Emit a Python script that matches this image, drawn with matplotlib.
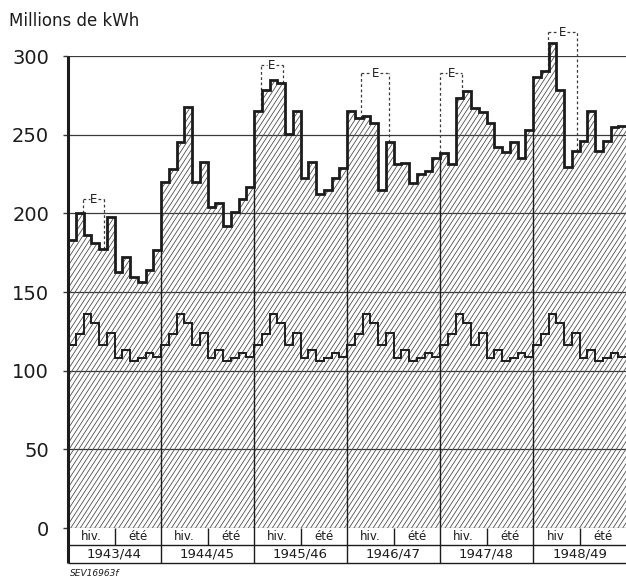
import numpy as np
import matplotlib
matplotlib.use("Agg")
import matplotlib.pyplot as plt
from matplotlib.collections import LineCollection

# données (millions de kWh, valeurs mensuelles oct. -> sept.)
years = ["1943/44", "1944/45", "1945/46", "1946/47", "1947/48", "1948/49"]
seasons = ["hiv.", "été"]
upper = [
    183, 200, 186.5, 181, 177.6, 197.6, 163, 172, 159.3, 156.5, 164, 177,
    219.8, 228.4, 245.5, 267.5, 219.8, 232.8, 204.2, 206.5, 192, 200.8, 209, 216.7,
    264.8, 278.5, 285, 283, 250.4, 265, 222.6, 232.6, 212.4, 214.6, 222.7, 229,
    264.8, 260.8, 261.8, 257.3, 214.6, 245.3, 231.5, 232.3, 219, 224.8, 227, 235.3,
    238.2, 231.4, 273, 277.5, 266.7, 264.1, 257.2, 241.9, 239.2, 245.3, 235.2, 253.1,
    286.6, 290.4, 308.3, 278.5, 229.2, 239.6, 245.9, 264.8, 239.6, 245.9, 254.8, 255.4,
]
lower = [
    116, 123, 136, 130, 116, 124, 108, 113, 106, 108, 111, 109,
    116, 123, 136, 130, 116, 124, 108, 113, 106, 108, 111, 109,
    116, 123, 136, 130, 116, 124, 108, 113, 106, 108, 111, 109,
    116, 123, 136, 130, 116, 124, 108, 113, 106, 108, 111, 109,
    116, 123, 136, 130, 116, 124, 108, 113, 106, 108, 111, 109,
    116, 123, 136, 130, 116, 124, 108, 113, 106, 108, 111, 109,
]
# cadres "E" : (début en mois, fin en mois, hauteur)
e_left = [1.95, 24.85, 37.85, 48.03, 61.9]
e_right = [4.7, 27.7, 41.45, 50.85, 65.7]
e_top = [209, 294, 289, 289, 315]
yticks = [0, 50, 100, 150, 200, 250, 300]

ink = "#1c1c1c"
grey = "#3a3a3a"
row1 = -10.8   # bas de la ligne hiv./été
row2 = -22.4   # bas de la ligne des années

fig = plt.figure(figsize=(6.26, 5.77), dpi=100)
ax = fig.add_axes([68 / 626, 49 / 577, 558 / 626, 472 / 577])
n = len(upper)
edges = np.arange(n + 1)
ax.set_xlim(0, n)
ax.set_ylim(0, 300)
for s in ax.spines.values():
    s.set_visible(False)

ax.set_xticks([])
ax.set_yticks(yticks)
ax.tick_params(axis="y", length=3.6, width=1, color=grey, pad=10,
               labelsize=14, labelcolor=ink)
ax.yaxis.grid(True, color=grey, lw=0.9)

# surface hachurée sous la courbe supérieure
area = ax.stairs(upper, edges, baseline=0, fill=True, facecolor="none",
                 edgecolor="none")
W, H = 558.0, 472.0
t = np.tan(np.radians(57))
Hh = 1.15 * H
segs = []
for c in np.arange(-Hh / t, W + 5, 4.8):
    segs.append([(c / W, 0), ((c + Hh / t) / W, Hh / H)])
hatch = LineCollection(segs, colors="#505050", linewidths=0.6, transform=ax.transAxes)
hatch.set_clip_path(area)
ax.add_collection(hatch, autolim=False)

ax.stairs(upper, edges, baseline=None, color=ink, lw=2.0, clip_on=False, zorder=4)
ax.stairs(lower, edges, baseline=None, color=ink, lw=1.4, zorder=4)

# limites des années sous la courbe et dans le tableau
for i in range(1, len(years)):
    b = 12 * i
    ax.vlines(b, row2, min(upper[b - 1], upper[b]), color=ink, lw=1.0, clip_on=False)
for i in range(len(years)):
    ax.vlines(12 * i + 6, row1, 0, color=ink, lw=1.0, clip_on=False)
    ax.text(12 * i + 3, row1 / 2, "hiv" if i == len(years) - 1 else seasons[0],
            ha="center", va="center", fontsize=8.5, color=ink)
    ax.text(12 * i + 9, row1 / 2, seasons[1], ha="center", va="center",
            fontsize=8.5, color=ink)
    ax.text(12 * i + 6, (row1 + row2) / 2, years[i], ha="center", va="center",
            fontsize=9.5, color=ink)
ax.hlines([row1, row2], 0, n, color=ink, lw=1.0, clip_on=False)
ax.vlines(0, row2, 300, color=ink, lw=2.2, clip_on=False, zorder=5)

# cadres pointillés "E"
for l, r, top in zip(e_left, e_right, e_top):
    kw = dict(color=grey, lw=0.9, ls=(0, (2.2, 2)), clip_on=False, zorder=3)
    ax.plot([l, l], [upper[int(l)], top], **kw)
    ax.plot([r, r], [upper[int(r)], top], **kw)
    m = (l + r) / 2
    ax.plot([l, m - 0.55], [top, top], **kw)
    ax.plot([m + 0.55, r], [top, top], **kw)
    ax.text(m, top, "E", ha="center", va="center", fontsize=8.5, color=ink,
            clip_on=False)

fig.text(9 / 626, 1 - 21 / 577, "Millions de kWh", fontsize=12, color=ink,
         va="center", ha="left")
fig.text(70 / 626, 1 - 573 / 577, "SEV16963f", fontsize=6.5, style="italic",
         color=ink, va="center", ha="left")

fig.savefig("out.png", dpi=100)
